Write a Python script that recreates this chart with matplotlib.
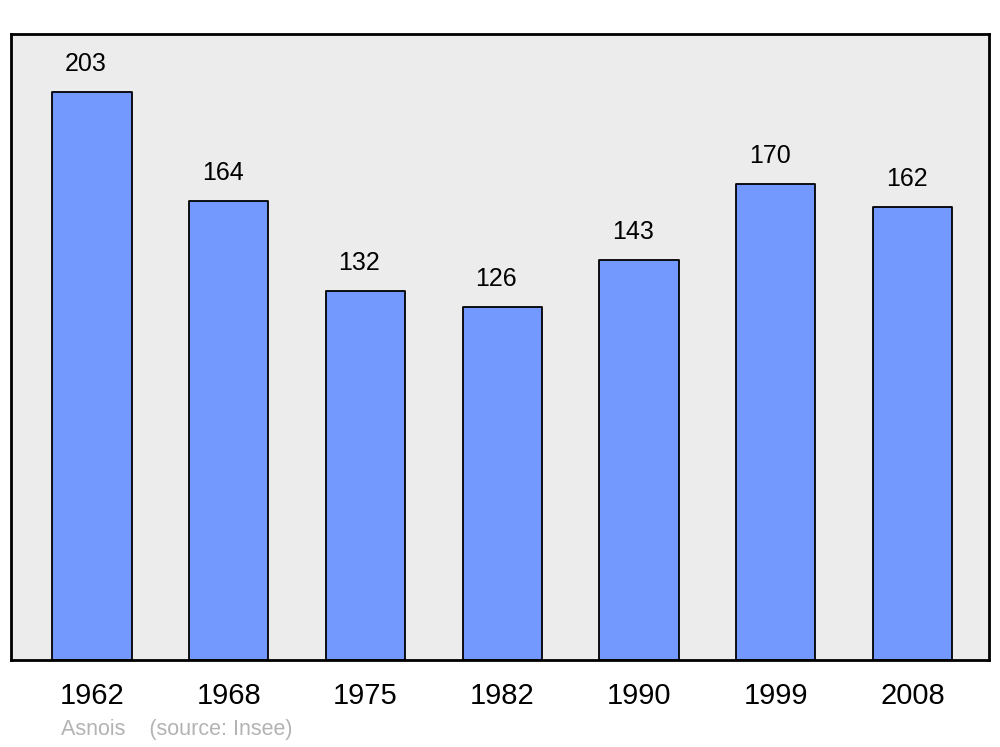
import matplotlib
matplotlib.use('Agg')
import matplotlib.pyplot as plt

plt.rcParams['font.family'] = ['Liberation Sans', 'DejaVu Sans']

# =========================
# DATA
# =========================

years = ['1962', '1968', '1975', '1982', '1990', '1999', '2008']
population = [203, 164, 132, 126, 143, 170, 162]

# =========================
# FIGURE
# =========================

fig = plt.figure(figsize=(10, 7.47), dpi=100)
ax = fig.add_axes([0.011, 0.1165, 0.978, 0.838])
ax.set_facecolor('#ececec')

positions = list(range(len(years)))

bars = ax.bar(
    positions,
    population,
    width=0.58,
    color='#7399ff',
    edgecolor='black',
    linewidth=1.3,
    zorder=2
)

for b in bars:
    b.set_joinstyle('round')

for x, v in zip(positions, population):
    ax.text(
        x - 0.044, v + 10, str(v),
        ha='center', va='center',
        fontsize=18
    )

ax.set_xlim(-0.592, 6.559)
ax.set_ylim(0, 223.7)

ax.set_xticks(positions)
ax.set_xticklabels(years, fontsize=21)
ax.tick_params(axis='x', length=0, pad=16)
ax.set_yticks([])

for spine in ax.spines.values():
    spine.set_linewidth(2)
    spine.set_joinstyle('round')

fig.text(
    0.061, 0.0228,
    'Asnois    (source: Insee)',
    color='#b3b3b3',
    fontsize=15.5,
    va='center'
)

plt.savefig('out.png', dpi=100)
plt.close()
